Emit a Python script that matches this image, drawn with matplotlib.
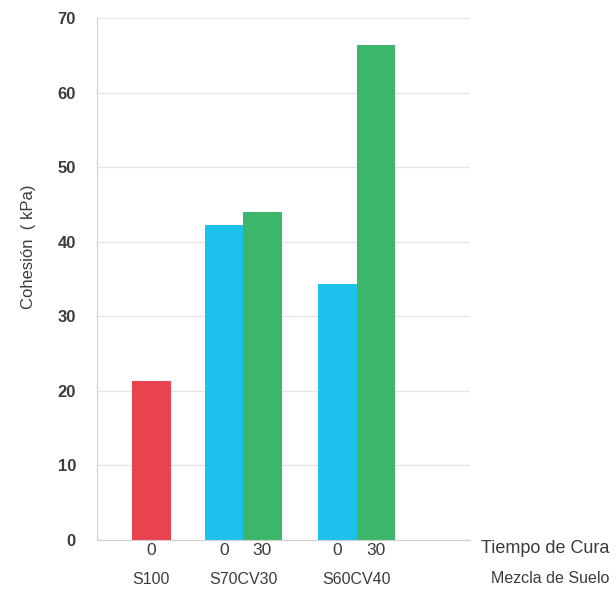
import numpy as np
import matplotlib.pyplot as plt

plt.rcParams['font.family'] = ['Liberation Sans', 'DejaVu Sans']

# data
mezclas = ['S100', 'S70CV30', 'S60CV40']
tiempos = ['0', '0', '30', '0', '30']
cohesion = [21.3, 42.3, 44.0, 34.3, 66.4]
colores = ['#e8434f', '#1ec0ec', '#3cb66a', '#1ec0ec', '#3cb66a']
yticks = [0, 10, 20, 30, 40, 50, 60, 70]

# layout (bar-width units)
centros = [1.42, 3.80, 6.75]
offsets = [[0.0], [-0.5, 0.5], [-0.5, 0.5]]
xpos = [c + o for c, offs in zip(centros, offsets) for o in offs]

fig = plt.figure(figsize=(6.16, 6.02), dpi=100)
ax = fig.add_axes([0.157, 0.103, 0.606, 0.867])

ax.bar(xpos, cohesion, width=1.0, color=colores, edgecolor='none', zorder=2)

ax.set_xlim(0, 9.69)
ax.set_ylim(0, 70)
ax.set_yticks(yticks)
ax.set_yticklabels([str(t) for t in yticks], fontsize=12, fontweight='bold', color='#3e3a40')
ax.yaxis.grid(True, color='#e6e6e6', lw=1.0, zorder=0)
ax.tick_params(axis='y', length=0, pad=15)

ax.set_xticks(xpos)
ax.set_xticklabels(tiempos, fontsize=12.5, color='#3e3a40')
ax.tick_params(axis='x', length=0, pad=2)

for c, m in zip(centros, mezclas):
    ax.text(c, -0.062, m, transform=ax.get_xaxis_transform(), ha='center', va='top',
            fontsize=11.5, color='#3e3a40')

for s in ['top', 'right']:
    ax.spines[s].set_visible(False)
ax.spines['left'].set_color('#d0d0d0')
ax.spines['bottom'].set_color('#d0d0d0')

fig.text(0.047, 0.59, 'Cohesión  ( kPa)', rotation=90, ha='center', va='center',
         fontsize=12, color='#3e3a40')
fig.text(0.99, 0.089, 'Tiempo de Cura', ha='right', va='center', fontsize=13, color='#3e3a40')
fig.text(0.99, 0.039, 'Mezcla de Suelo', ha='right', va='center', fontsize=11.5, color='#3e3a40')

fig.savefig('out.png', dpi=100)
